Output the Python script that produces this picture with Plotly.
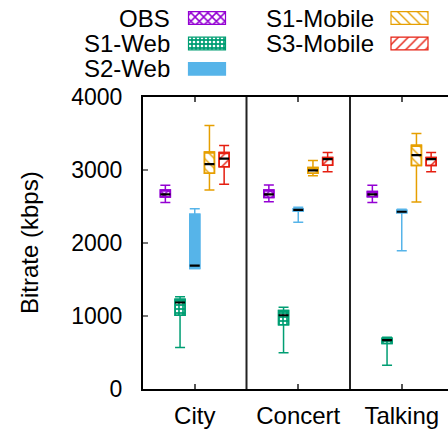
import plotly.graph_objects as go

# ---- data -------------------------------------------------------------
categories = ["City", "Concert", "Talking"]
series = ["OBS", "S1-Web", "S2-Web", "S1-Mobile", "S3-Mobile"]

# five-number summaries per series, one value per category
obs_lo = [2555, 2565, 2555]
obs_q1 = [2630, 2625, 2635]
obs_med = [2665, 2665, 2665]
obs_q3 = [2725, 2725, 2705]
obs_hi = [2790, 2795, 2790]

s1web_lo = [570, 495, 325]
s1web_q1 = [1010, 880, 625]
s1web_med = [1185, 1010, 670]
s1web_q3 = [1230, 1075, 695]
s1web_hi = [1265, 1120, 710]

s2web_lo = [1650, 2285, 1895]
s2web_q1 = [1650, 2440, 2415]
s2web_med = [1690, 2455, 2428]
s2web_q3 = [2395, 2470, 2450]
s2web_hi = [2470, 2490, 2462]

s1mob_lo = [2725, 2920, 2560]
s1mob_q1 = [2955, 2955, 3060]
s1mob_med = [3080, 2995, 3205]
s1mob_q3 = [3245, 3035, 3340]
s1mob_hi = [3610, 3130, 3500]

s3mob_lo = [2805, 2975, 2975]
s3mob_q1 = [3045, 3065, 3060]
s3mob_med = [3155, 3150, 3150]
s3mob_q3 = [3240, 3170, 3170]
s3mob_hi = [3335, 3240, 3240]

stats = {
    "OBS": (obs_lo, obs_q1, obs_med, obs_q3, obs_hi),
    "S1-Web": (s1web_lo, s1web_q1, s1web_med, s1web_q3, s1web_hi),
    "S2-Web": (s2web_lo, s2web_q1, s2web_med, s2web_q3, s2web_hi),
    "S1-Mobile": (s1mob_lo, s1mob_q1, s1mob_med, s1mob_q3, s1mob_hi),
    "S3-Mobile": (s3mob_lo, s3mob_q1, s3mob_med, s3mob_q3, s3mob_hi),
}

y_ticks = [0, 1000, 2000, 3000, 4000]

# ---- styles -----------------------------------------------------------
colors = {
    "OBS": "#9400d3",
    "S1-Web": "#009e73",
    "S2-Web": "#56b4e9",
    "S1-Mobile": "#e69f00",
    "S3-Mobile": "#e51e10",
}
# fill pattern per series: (shape, foreground, background, size, solidity)
patterns = {
    "OBS": ("x", "#9400d3", "white", 6, 0.45),
    "S1-Web": (".", "white", "#009e73", 4, 0.35),
    "S2-Web": ("", "#56b4e9", "#56b4e9", 6, 1),
    "S1-Mobile": ("\\", "#e69f00", "white", 7, 0.2),
    "S3-Mobile": ("/", "#e51e10", "white", 7, 0.2),
}

W, H = 448, 431
FONT = "Liberation Sans, Arial, Helvetica, sans-serif"
# plot frame in pixels
PL, PR, PT, PB = 143, 448, 97, 389

positions = list(range(len(categories)))
px_per_cat = 103.5
x_range = [-0.5, -0.5 + (PR - PL) / px_per_cat]


def fill_marker(name, line_width):
    shape, fg, bg, size, solidity = patterns[name]
    return dict(
        color=bg,
        line=dict(color=colors[name], width=line_width),
        pattern=dict(shape=shape, fgcolor=fg, bgcolor=bg, size=size,
                     solidity=solidity, fillmode="replace"),
    )


fig = go.Figure()

for k, name in enumerate(series):
    lo, q1, med, q3, hi = stats[name]
    col = colors[name]
    # patterned box body
    fig.add_trace(go.Bar(
        x=positions, y=[b - a for a, b in zip(q1, q3)], base=q1,
        offsetgroup=str(k), marker=fill_marker(name, 1.5),
        showlegend=False, hoverinfo="skip",
    ))
    # whiskers and outline
    fig.add_trace(go.Box(
        x=positions, q1=q1, median=q3, q3=q3, lowerfence=lo, upperfence=hi,
        offsetgroup=str(k), boxpoints=False, whiskerwidth=1,
        line=dict(color=col, width=1.5), fillcolor="rgba(0,0,0,0)",
        showlegend=False, hoverinfo="skip",
    ))
    # black median bar
    fig.add_trace(go.Box(
        x=positions, q1=med, median=med, q3=med, lowerfence=med, upperfence=med,
        offsetgroup=str(k), boxpoints=False, whiskerwidth=0,
        line=dict(color="black", width=2.2), fillcolor="rgba(0,0,0,0)",
        showlegend=False, hoverinfo="skip",
    ))

# ---- key: text on the left, swatch on the right -------------------------
key_rows = {"OBS": (0, 0), "S1-Web": (0, 1), "S2-Web": (0, 2),
            "S1-Mobile": (1, 0), "S3-Mobile": (1, 1)}
key_text_right = [171.5, 376]
key_swatch_left = [188.5, 391]
key_row_top = [11.7, 37.2, 62.5]
key_swatch_w, key_swatch_h = 37, 12.6

for name in series:
    c, r = key_rows[name]
    fig.add_trace(go.Bar(
        x=[key_swatch_left[c]], y=[key_swatch_h], base=[key_row_top[r]],
        width=[key_swatch_w], offset=[0], marker=fill_marker(name, 1.2),
        xaxis="x2", yaxis="y2", showlegend=False, hoverinfo="skip",
    ))
    fig.add_annotation(
        text=name, xref="paper", yref="paper",
        x=key_text_right[c] / W, y=1 - (key_row_top[r] + key_swatch_h / 2) / H,
        xanchor="right", yanchor="middle", showarrow=False,
        font=dict(family=FONT, size=24, color="black"),
    )

# y-axis title
fig.add_annotation(
    text="Bitrate (kbps)", xref="paper", yref="paper",
    x=30 / W, y=1 - ((PT + PB) / 2) / H, textangle=-90,
    xanchor="center", yanchor="middle", showarrow=False,
    font=dict(family=FONT, size=24, color="black"),
)

# panel separators between categories
for sep in [0.5, 1.5]:
    fig.add_shape(type="line", xref="x", yref="y domain", x0=sep, x1=sep,
                  y0=0, y1=1, line=dict(color="#222222", width=2))

fig.update_layout(
    width=W, height=H,
    margin=dict(l=0, r=0, t=0, b=0, autoexpand=False),
    paper_bgcolor="white", plot_bgcolor="rgba(0,0,0,0)",
    barmode="group", bargap=0.29, bargroupgap=0.32,
    boxmode="group", boxgap=0.29, boxgroupgap=0.32,
    font=dict(family=FONT, size=24, color="black"),
    showlegend=False,
    xaxis=dict(
        domain=[PL / W, PR / W], range=x_range, type="linear",
        tickvals=positions, ticktext=categories, automargin=False,
        ticks="inside", ticklen=5, tickcolor="#555555", tickwidth=1.5,
        showline=True, linecolor="black", linewidth=2, mirror="ticks",
        showgrid=False, zeroline=False, fixedrange=True,
        tickfont=dict(size=24), ticklabelstandoff=4,
    ),
    yaxis=dict(
        domain=[1 - PB / H, 1 - PT / H], range=[0, 4000], automargin=False,
        tickvals=y_ticks, ticks="inside", ticklen=5, tickcolor="#777777",
        tickwidth=1.5, showline=True, linecolor="black", linewidth=2,
        showgrid=False, zeroline=False, fixedrange=True,
        tickfont=dict(size=23), ticklabelstandoff=14,
    ),
    xaxis2=dict(domain=[0, 1], range=[0, W], visible=False, anchor="y2",
                fixedrange=True, automargin=False),
    yaxis2=dict(domain=[0, 1], range=[H, 0], visible=False, anchor="x2",
                fixedrange=True, automargin=False),
)

fig.write_html("out.html")
